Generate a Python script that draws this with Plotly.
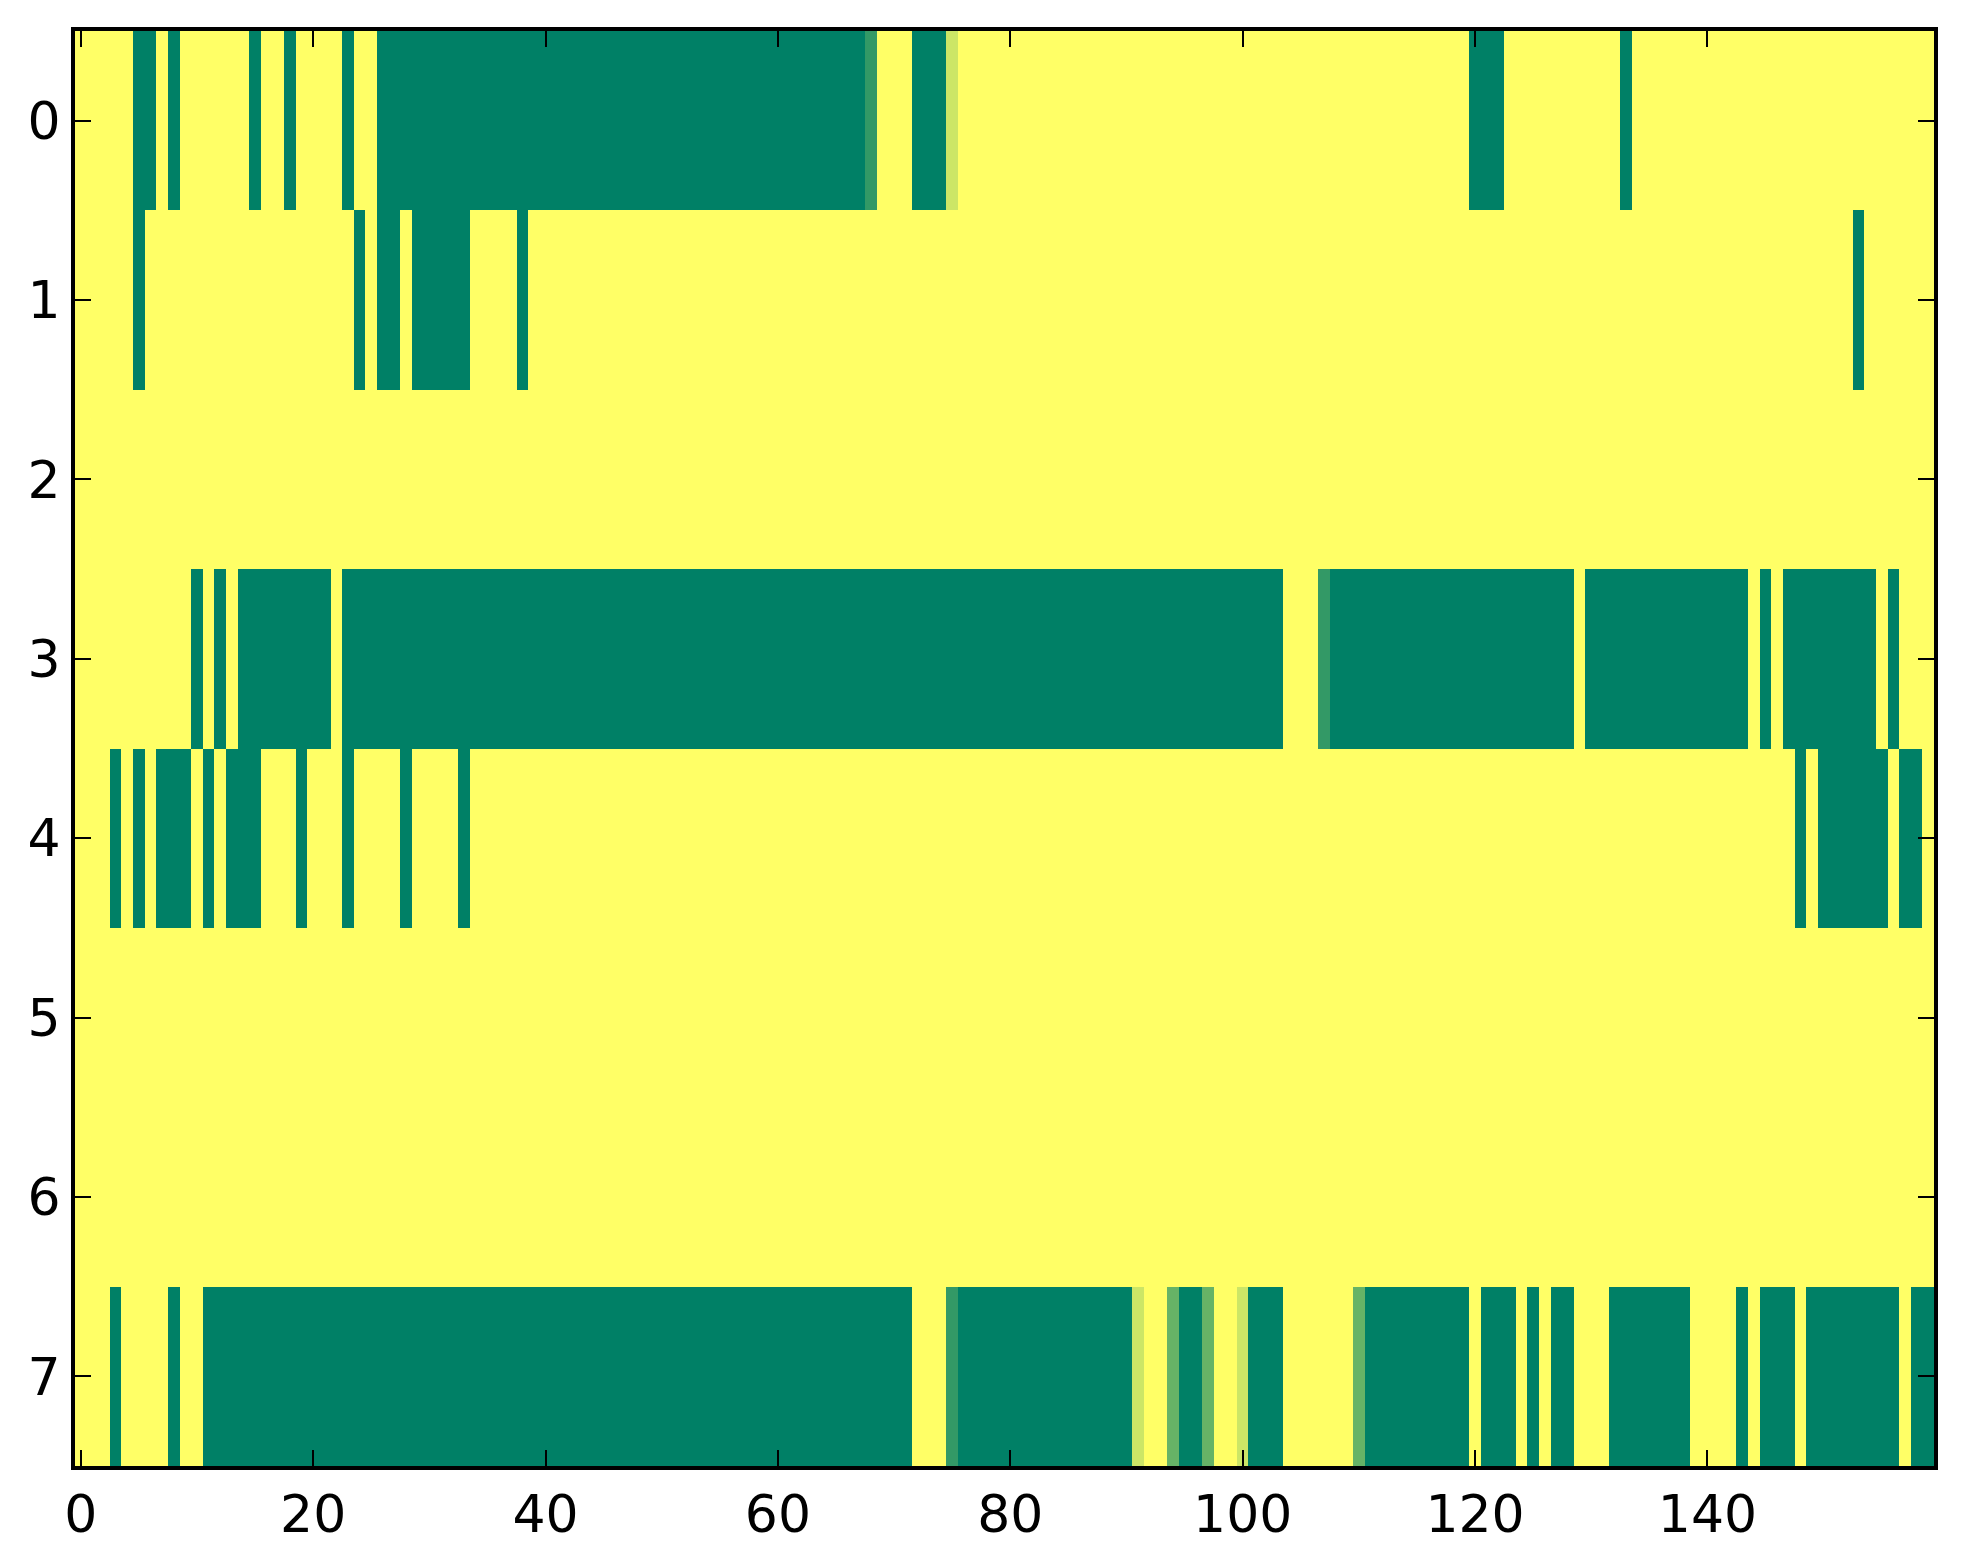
import plotly.graph_objects as go

# Each row: one character per column (160 columns).
# '0' -> 0.0, '2' -> 0.2, '4' -> 0.4, '8' -> 0.8, '1' -> 1.0
row0 = ("1111100101 1111101101 1110110000 0000000000 0000000000 0000000000 "
        "0000000021 1100081111 1111111111 1111111111 1111111111 1111111111 "
        "0001111111 1110111111 1111111111 1111111111")
row1 = ("1111101111 1111111111 1111010010 0000111101 1111111111 1111111111 "
        "1111111111 1111111111 1111111111 1111111111 1111111111 1111111111 "
        "1111111111 1111111111 1111111111 1110111111")
row2 = ("1111111111 1111111111 1111111111 1111111111 1111111111 1111111111 "
        "1111111111 1111111111 1111111111 1111111111 1111111111 1111111111 "
        "1111111111 1111111111 1111111111 1111111111")
row3 = ("1111111111 0101000000 0010000000 0000000000 0000000000 0000000000 "
        "0000000000 0000000000 0000000000 0000000000 0000111200 0000000000 "
        "0000000001 0000000000 0000101000 0000010111")
row4 = ("1110101000 1010001110 1110111101 1110111111 1111111111 1111111111 "
        "1111111111 1111111111 1111111111 1111111111 1111111111 1111111111 "
        "1111111111 1111111111 1111111101 0000001001")
row5 = row2
row6 = row2
row7 = ("1110111101 1000000000 0000000000 0000000000 0000000000 0000000000 "
        "0000000000 0011120000 0000000000 0811400411 8000111111 4000000000 "
        "1000101001 1100000001 1110100010 0000000100")

rows = [row0, row1, row2, row3, row4, row5, row6, row7]
code_values = {'0': 0.0, '2': 0.2, '4': 0.4, '8': 0.8, '1': 1.0}

x_ticks = [0, 20, 40, 60, 80, 100, 120, 140]
y_ticks = [0, 1, 2, 3, 4, 5, 6, 7]

z = [[code_values[ch] for ch in r.replace(" ", "")] for r in rows]
n_cols = len(z[0])
cols = list(range(n_cols))
row_idx = list(range(len(z)))

# matplotlib "summer" colormap (linear from green to yellow)
summer = [[0.0, "rgb(0,128,102)"], [1.0, "rgb(255,255,102)"]]

fig = go.Figure(
    go.Heatmap(
        z=z, x=cols, y=row_idx,
        colorscale=summer, zmin=0, zmax=1,
        showscale=False,
    )
)

axis_common = dict(
    showline=True, linecolor="black", linewidth=4, mirror="ticks",
    ticks="inside", ticklen=16, tickwidth=2, tickcolor="black",
    showgrid=False, zeroline=False,
    tickfont=dict(family="DejaVu Sans", size=52, color="black"),
)

fig.update_xaxes(range=[-0.5, n_cols - 0.5], tickvals=x_ticks,
                 ticktext=[str(v) for v in x_ticks], **axis_common)
fig.update_yaxes(range=[len(z) - 0.5, -0.5], tickvals=y_ticks,
                 ticktext=[str(v) for v in y_ticks], **axis_common)

fig.update_layout(
    width=1963, height=1564,
    margin=dict(l=67, r=37, t=23, b=106),
    paper_bgcolor="white", plot_bgcolor="white",
)

fig.write_html("out.html")
